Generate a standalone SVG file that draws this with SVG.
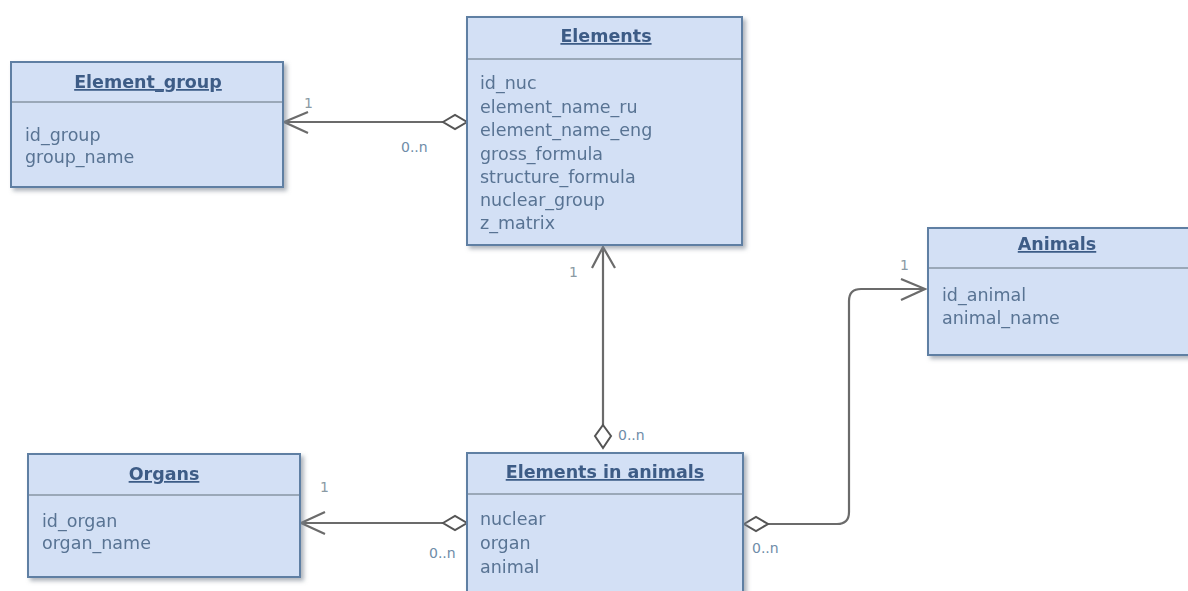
<svg xmlns="http://www.w3.org/2000/svg" width="1188" height="591" viewBox="0 0 1188 591">
<style>
.box{fill:#d3e0f5;stroke:#5f7fa3;stroke-width:2}
.sep{stroke:#9aa8b8;stroke-width:2}
.title{font-family:"DejaVu Sans",sans-serif;font-weight:bold;font-size:17.5px;fill:#3d5b86;text-decoration:underline;text-anchor:middle}
.attr{font-family:"DejaVu Sans",sans-serif;font-size:17.5px;fill:#587393}
.con{fill:none;stroke:#6b6b6b;stroke-width:2.2}
.dia{fill:#ffffff;stroke:#555555;stroke-width:2}
.m1{font-family:"DejaVu Sans",sans-serif;font-size:14px;fill:#8a9aa4}
.mn{font-family:"DejaVu Sans",sans-serif;font-size:14px;fill:#6f8ca8}
</style>
<defs>
<filter id="sh" x="-5%" y="-5%" width="115%" height="120%">
<feDropShadow dx="3" dy="3" stdDeviation="2" flood-color="#7a8390" flood-opacity="0.6"/>
</filter>
</defs>
<rect width="1188" height="591" fill="#ffffff"/>
<g id="connectors">
<path class="con" d="M443 122 H284 M308 112 L284 122 L308 133"/>
<path class="dia" d="M443 122 L455 115 L467 122 L455 129 Z"/>
<path class="con" d="M603 425 V247 M592 268 L603 247 L615 268"/>
<path class="dia" d="M603 425 L611 436 L603 448 L595 436 Z"/>
<path class="con" d="M443 523 H301 M325 512 L301 523 L325 534"/>
<path class="dia" d="M443 523 L455 516 L467 523 L455 530 Z"/>
<path class="con" d="M768 524 H837 Q849 524 849 512 V301 Q849 289 861 289 H925 M901 279 L925 289 L901 300"/>
<path class="dia" d="M744 524 L756 517 L768 524 L756 531 Z"/>
<text class="m1" x="304" y="108">1</text>
<text class="mn" x="401" y="152">0..n</text>
<text class="m1" x="569" y="277">1</text>
<text class="mn" x="618" y="440">0..n</text>
<text class="m1" x="320" y="492">1</text>
<text class="mn" x="429" y="558">0..n</text>
<text class="m1" x="900" y="270">1</text>
<text class="mn" x="752" y="553">0..n</text>
</g>
<g id="element_group" filter="url(#sh)">
<rect class="box" x="11" y="62" width="272" height="125"/>
<line class="sep" x1="12" y1="102" x2="282" y2="102"/>
<text class="title" x="148" y="88">Element_group</text>
<text class="attr" x="25" y="141">id_group</text>
<text class="attr" x="25" y="163">group_name</text>
</g>
<g id="elements" filter="url(#sh)">
<rect class="box" x="467" y="17" width="275" height="228"/>
<line class="sep" x1="468" y1="59" x2="741" y2="59"/>
<text class="title" x="606" y="42">Elements</text>
<text class="attr" x="480" y="89">id_nuc</text>
<text class="attr" x="480" y="113">element_name_ru</text>
<text class="attr" x="480" y="136">element_name_eng</text>
<text class="attr" x="480" y="160">gross_formula</text>
<text class="attr" x="480" y="183">structure_formula</text>
<text class="attr" x="480" y="206">nuclear_group</text>
<text class="attr" x="480" y="229">z_matrix</text>
</g>
<g id="animals" filter="url(#sh)">
<rect class="box" x="928" y="228" width="275" height="127"/>
<line class="sep" x1="929" y1="268" x2="1188" y2="268"/>
<text class="title" x="1057" y="250">Animals</text>
<text class="attr" x="942" y="301">id_animal</text>
<text class="attr" x="942" y="324">animal_name</text>
</g>
<g id="organs" filter="url(#sh)">
<rect class="box" x="28" y="454" width="272" height="123"/>
<line class="sep" x1="29" y1="495" x2="299" y2="495"/>
<text class="title" x="164" y="480">Organs</text>
<text class="attr" x="42" y="527">id_organ</text>
<text class="attr" x="42" y="549">organ_name</text>
</g>
<g id="elements_in_animals" filter="url(#sh)">
<rect class="box" x="467" y="453" width="276" height="150"/>
<line class="sep" x1="468" y1="494" x2="742" y2="494"/>
<text class="title" x="605" y="478">Elements in animals</text>
<text class="attr" x="480" y="525">nuclear</text>
<text class="attr" x="480" y="549">organ</text>
<text class="attr" x="480" y="573">animal</text>
</g>
</svg>
